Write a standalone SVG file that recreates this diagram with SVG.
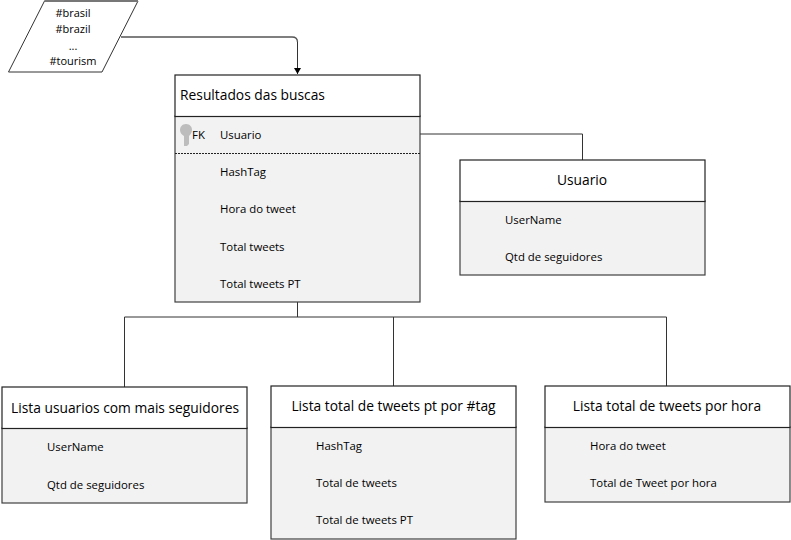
<svg xmlns="http://www.w3.org/2000/svg" width="791" height="540" viewBox="0 0 791 540">
<defs><marker id="arrow" markerUnits="userSpaceOnUse" markerWidth="8" markerHeight="8" refX="6" refY="3.500" orient="auto"><path d="M0 0L6 3.500L0 7z" fill="#000"/></marker></defs>
<style>
text{font-family:"Open Sans","Noto Sans",sans-serif;fill:#000}
.h{font-size:13.800px;text-anchor:middle}
.f{font-size:11.400px}
.c{font-size:11px;text-anchor:middle}
.b{fill:#f2f2f2;stroke:#404040;stroke-width:1.200}
.t{fill:#fff;stroke:#222;stroke-width:1.200}
.l{fill:none;stroke:#333;stroke-width:1}
</style>
<rect width="791" height="540" fill="#fff"/>
<g id="connectors">
<path d="M121 37H292Q297.500 37 297.500 42" fill="none" stroke="#555" stroke-width="1.300"/>
<path class="l" d="M297.500 42V74" marker-end="url(#arrow)"/>
<path class="l" d="M420 134H582.500V160"/>
<path class="l" d="M297.500 302V317M124.500 317H666.500M124.500 317V387M393.500 317V386M666.500 317V386"/>
</g>
<g id="input">
<path d="M44.500 1H138L102 72H8.500z" fill="#fff" stroke="#333" stroke-width="1"/>
<path d="M44.500 1H138" stroke="#777" stroke-width="2"/>
<text class="c" x="73" y="17">#brasil</text><text class="c" x="73" y="33">#brazil</text><text class="c" x="73" y="50">...</text><text class="c" x="73" y="65">#tourism</text>
</g>
<g id="resultados">
<rect class="b" x="175" y="116" width="245" height="186"/><rect class="t" x="175" y="75" width="245" height="41.500"/>
<path d="M175 153.500H420" stroke="#222" stroke-dasharray="2 1" stroke-width="1"/>
<text class="h" x="252.500" y="100">Resultados das buscas</text>
<path d="M186 124c4 0 6 3 6 6c0 3-2 5-3 6v8l-2 2h-3v-10c-2-1-4-3-4-6c0-3 2-6 6-6z" fill="#bdbdbd"/>
<text class="f" x="192" y="139">FK</text><text class="f" x="220" y="139">Usuario</text>
<text class="f" x="220" y="176">HashTag</text><text class="f" x="220" y="213">Hora do tweet</text><text class="f" x="220" y="251">Total tweets</text><text class="f" x="220" y="288">Total tweets PT</text>
</g>
<g id="usuario">
<rect class="b" x="460" y="201" width="245" height="74"/><rect class="t" x="460" y="160" width="245" height="41.500"/>
<text class="h" x="582" y="185">Usuario</text>
<text class="f" x="505" y="224">UserName</text><text class="f" x="505" y="261">Qtd de seguidores</text>
</g>
<g id="lista-usuarios">
<rect class="b" x="2" y="428" width="245" height="75"/><rect class="t" x="2" y="387" width="245" height="41.500"/>
<text class="h" x="125" y="413">Lista usuarios com mais seguidores</text>
<text class="f" x="47" y="451">UserName</text><text class="f" x="47" y="489">Qtd de seguidores</text>
</g>
<g id="lista-tag">
<rect class="b" x="271" y="427" width="245" height="112"/><rect class="t" x="271" y="386" width="245" height="41.500"/>
<text class="h" x="393.500" y="411">Lista total de tweets pt por #tag</text>
<text class="f" x="316" y="450">HashTag</text><text class="f" x="316" y="487">Total de tweets</text><text class="f" x="316" y="524">Total de tweets PT</text>
</g>
<g id="lista-hora">
<rect class="b" x="545" y="427" width="245" height="75"/><rect class="t" x="545" y="386" width="245" height="41.500"/>
<text class="h" x="667" y="411">Lista total de tweets por hora</text>
<text class="f" x="590" y="450">Hora do tweet</text><text class="f" x="590" y="487">Total de Tweet por hora</text>
</g>
</svg>
